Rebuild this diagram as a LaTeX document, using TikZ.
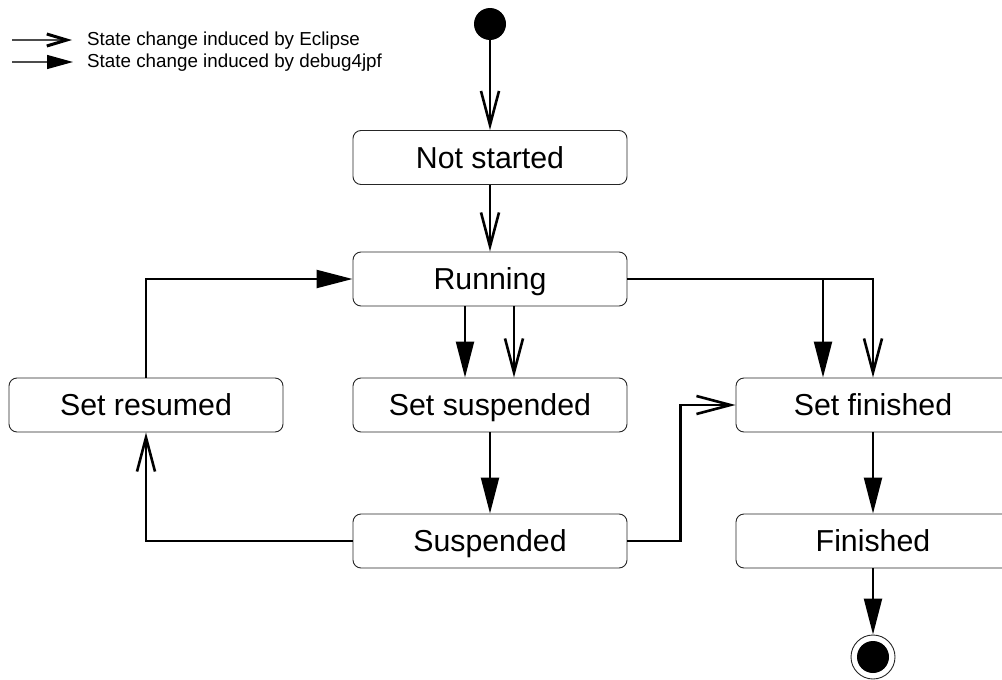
\documentclass[tikz,border=0pt]{standalone}
\usepackage{fontspec}
\setmainfont{Liberation Sans}
\usetikzlibrary{arrows.meta}
\begin{document}
\begin{tikzpicture}[x=1pt,y=-1pt,
  state/.style={draw=black!85, line width=0.9pt, rounded corners=8pt,
    minimum width=274pt, minimum height=54pt, inner sep=0pt,
    text height=21.5pt, text depth=0.5pt,
    font=\fontsize{30.3}{36}\selectfont},
  flow/.style={line width=2.2pt},
  eclipse/.style={flow, -{Straight Barb[length=34pt, width=18pt, line width=2.6pt]}},
  jpf/.style={flow, -{Triangle[length=36pt, width=18pt]}},
  legendtext/.style={anchor=west, inner sep=0pt, font=\fontsize{18.8}{22}\selectfont},
]
\clip (0,0) rectangle (1002,680);

% legend
\coordinate (l1a) at (12,40);
\coordinate (l1b) at (72,40);
\coordinate (l2a) at (12,62);
\coordinate (l2b) at (73,62);
\draw[line width=1.3pt, draw=black!70, -{Straight Barb[length=20pt, width=12pt, line width=3pt, color=black]}] (l1a) -- (l1b);
\draw[line width=1.3pt, draw=black!70, -{Triangle[length=26pt, width=14pt, color=black]}] (l2a) -- (l2b);
\node[legendtext] (l1t) at (87,41) {State change induced by Eclipse};
\node[legendtext] (l2t) at (87,63) {State change induced by debug4jpf};

% states
\node[circle, fill=black, minimum size=32pt, inner sep=0pt] (start) at (490,24) {};
\node[state] (ns)   at (490,157.5) {Not started};
\node[state] (run)  at (490,279) {Running};
\node[state] (sr)   at (146,405) {Set resumed};
\node[state] (ss)   at (490,405) {Set suspended};
\node[state] (susp) at (490,541) {Suspended};
\node[state] (sf)   at (873,405) {Set finished};
\node[state] (fin)  at (873,541) {Finished};
\node[circle, draw=black!85, line width=0.9pt, minimum size=44pt, inner sep=0pt] (stop) at (873,657) {};
\node[circle, fill=black, minimum size=32pt, inner sep=0pt] (stopdot) at (stop) {};

% transitions
\draw[eclipse] (start) -- (ns);
\draw[eclipse] (ns) -- (run);
\draw[jpf] ([xshift=-25pt]run.south) -- ([xshift=-25pt]ss.north);
\draw[eclipse] ([xshift=24pt]run.south) -- ([xshift=24pt]ss.north);
\draw[jpf] (run.east) -| ([xshift=-50pt]sf.north);
\draw[eclipse] (run.east) -| (sf.north);
\draw[jpf] (ss) -- (susp);
\draw[eclipse] (susp.west) -| (sr.south);
\draw[jpf] (sr.north) |- (run.west);
\draw[eclipse] (susp.east) -| ([xshift=-55pt]sf.west) -- (sf.west);
\draw[jpf] (sf) -- (fin);
\draw[jpf] (fin) -- (stop);
\end{tikzpicture}
\end{document}
